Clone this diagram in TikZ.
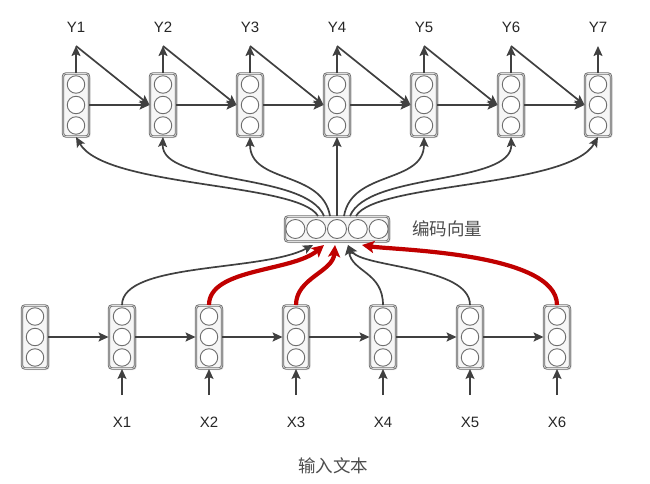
\documentclass[tikz,border=0pt]{standalone}
\usepackage{fontspec}
\setmainfont{Liberation Sans}
\newfontfamily\cjk{Noto Sans CJK SC}
\usetikzlibrary{arrows.meta,shadows}
\definecolor{ln}{HTML}{404040}
\definecolor{rd}{HTML}{C00000}
\definecolor{bx}{HTML}{6E6E6E}
\begin{document}
\begin{tikzpicture}[x=1pt,y=-1pt,
  cellv/.style={draw=bx, fill=gray!7, rounded corners=3pt, minimum width=26pt,
    minimum height=63pt, inner sep=0pt, line width=0.9pt, double=gray!25, double distance=0.6pt,
    drop shadow={shadow xshift=1.5pt, shadow yshift=-1.5pt, opacity=0.25}},
  cellh/.style={draw=bx, fill=gray!7, rounded corners=3pt, minimum width=104pt,
    minimum height=25pt, inner sep=0pt, line width=0.9pt, double=gray!25, double distance=0.6pt,
    drop shadow={shadow xshift=1.5pt, shadow yshift=-1.5pt, opacity=0.25}},
  dot/.style={circle, draw=bx, fill=white, minimum size=17.5pt, inner sep=0pt, line width=0.9pt},
  edot/.style={circle, draw=bx, fill=white, minimum size=19pt, inner sep=0pt, line width=0.9pt},
  garr/.style={draw=ln, line width=1.7pt, -{Stealth[length=10pt,width=9pt,inset=2pt]}},
  rarr/.style={draw=rd, line width=4.2pt, -{Stealth[length=12pt,width=12pt,inset=2.5pt]}},
  lbl/.style={font=\fontsize{15}{17}\selectfont, text=black!85, inner sep=0pt},
  cjklbl/.style={font=\cjk\fontsize{17.5}{20}\selectfont, text=black!70, inner sep=0pt}]
\useasboundingbox (0,0) rectangle (650,484);

% decoder cells
\foreach \i/\x in {1/76,2/163,3/250,4/337,5/424,6/511,7/598}{
  \node[cellv] (d\i) at (\x,105) {};
  \node[dot] (d\i a) at (\x,84.5) {};
  \node[dot] (d\i b) at (\x,105) {};
  \node[dot] (d\i c) at (\x,125.5) {};
  \node[lbl] (y\i) at (\x,27) {Y\i};
  \coordinate (yt\i) at (\x,46);
  \draw[garr] (d\i.north) -- (yt\i);
}
\foreach \i/\j in {1/2,2/3,3/4,4/5,5/6,6/7}{
  \draw[garr] (d\i.east) -- (d\j.west);
  \draw[garr] (yt\i) -- (d\j.west);
}

% encoder cells
\foreach \i/\x in {0/35,1/122,2/209,3/296,4/383,5/470,6/557}{
  \node[cellv] (e\i) at (\x,337) {};
  \node[dot] (e\i a) at (\x,316.5) {};
  \node[dot] (e\i b) at (\x,337) {};
  \node[dot] (e\i c) at (\x,357.5) {};
}
\foreach \i/\x in {1/122,2/209,3/296,4/383,5/470,6/557}{
  \node[lbl] (x\i) at (\x,422) {X\i};
  \coordinate (xb\i) at (\x,395);
  \draw[garr] (xb\i) -- (e\i.south);
}
\foreach \i/\j in {0/1,1/2,2/3,3/4,4/5,5/6}{
  \draw[garr] (e\i.east) -- (e\j.west);
}

% encoding vector
\node[cellh] (enc) at (337,229) {};
\foreach \k/\x in {1/295.4,2/316.2,3/337,4/357.8,5/378.6}{
  \node[edot] (enc\k) at (\x,229) {};
}
\node[cjklbl] (enclbl) at (447,229) {编码向量};
\node[cjklbl] (inlbl) at (333,466) {输入文本};

% fan from encoding vector to decoder
\coordinate (t1) at (318,216);
\coordinate (t2) at (324,216);
\coordinate (t3) at (330,216);
\coordinate (t4) at (337,216);
\coordinate (t5) at (344,216);
\coordinate (t6) at (350,216);
\coordinate (t7) at (356,216);
\draw[garr] (t1) .. controls (298,182) and (105,188) .. (d1.south);
\draw[garr] (t2) .. controls (306,172) and (161,185) .. (d2.south);
\draw[garr] (t3) .. controls (322,170) and (250,184) .. (d3.south);
\draw[garr] (t4) -- (d4.south);
\draw[garr] (t5) .. controls (352,170) and (424,184) .. (d5.south);
\draw[garr] (t6) .. controls (368,172) and (513,185) .. (d6.south);
\draw[garr] (t7) .. controls (376,182) and (569,188) .. (d7.south);

% encoder outputs to encoding vector
\coordinate (b1) at (313,245);
\coordinate (b2) at (324,245);
\coordinate (b3) at (335,245);
\coordinate (b4) at (348,245);
\coordinate (b6) at (362,245);
\draw[garr] (e1.north) .. controls (122,262) and (262,272) .. (b1);
\draw[garr] (e4.north) .. controls (383,272) and (352,272) .. (b4);
\draw[garr] (e5.north) .. controls (470,266) and (362,268) .. (b4);
\draw[rarr] (e2.north) .. controls (209,268) and (292,272) .. (b2);
\draw[rarr] (e3.north) .. controls (296,278) and (333,272) .. (b3);
\draw[rarr] (e6.north) .. controls (557,252) and (392,250) .. (b6);
\end{tikzpicture}
\end{document}
